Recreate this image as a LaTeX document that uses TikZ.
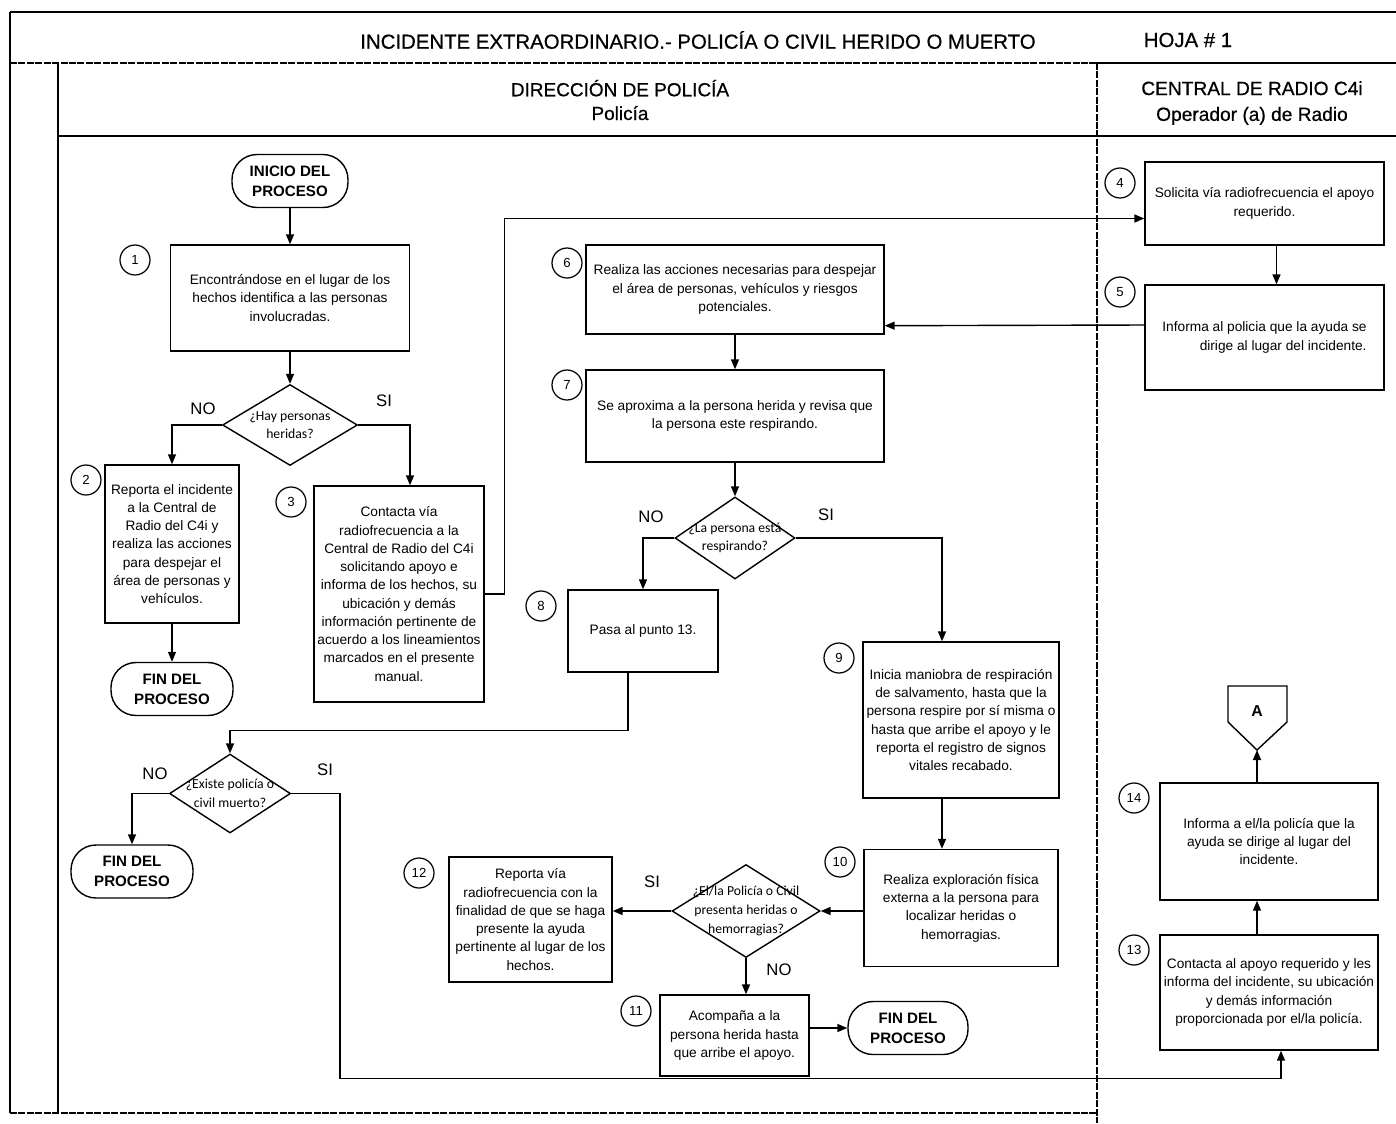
\documentclass[tikz,border=0pt]{standalone}
\usepackage{fontspec}
\setmainfont{Liberation Sans}
\newfontfamily\calibfont{Carlito}
\newfontfamily\headfont{Liberation Sans}[FakeBold=0.6]
\usetikzlibrary{positioning,arrows.meta,shapes.geometric,calc}

\begin{document}
\begin{tikzpicture}[
		x=0.02cm, y=-0.02cm,
		procbox/.style={
			draw,
			line width=0.8pt,
			align=center,
			inner sep=2pt,
			font=\fontsize{7.8}{10.4}\selectfont
		},
		termbox/.style={
			draw,
			line width=0.8pt,
			rounded corners=0.5cm,
			align=center,
			minimum height=1.06cm,
			font=\bfseries\fontsize{8.6}{11.3}\selectfont
		},
		decision/.style={draw, diamond, line width=0.8pt, inner sep=0pt},
		dtext/.style={align=center, font=\calibfont\fontsize{7.8}{10.6}\selectfont},
		numcircle/.style={draw, circle, line width=0.7pt, minimum size=0.6cm, inner sep=0pt, font=\fontsize{7.5}{9}\selectfont},
		answer/.style={font=\fontsize{9.5}{11}\selectfont},
		heading/.style={align=center, font=\headfont\fontsize{10.8}{13.5}\selectfont},
		arrow/.style={-{Triangle[length=2mm,width=1.6mm]}, line width=0.8pt},
		frame/.style={line width=0.9pt},
		lanesplit/.style={line width=0.9pt, dash pattern=on 4pt off 0.8pt}
	]
		\path[fill=white] (0,0) rectangle (1396,1123);
		\useasboundingbox (0,0) rectangle (1396,1123);

		% frame and lanes
		\draw[frame] (10,12) -- (1396,12);
		\draw[frame] (10,12) -- (10,1113);
		\draw[lanesplit] (10,63) -- (1097,63);
		\draw[frame] (1097,63) -- (1396,63);
		\draw[frame] (58,63) -- (58,1113);
		\draw[frame] (58,136) -- (1396,136);
		\draw[lanesplit] (1097,63) -- (1097,1123);
		\draw[lanesplit] (10,1113) -- (1097,1113);

		\node[heading, font=\headfont\fontsize{11.6}{14}\selectfont] (title) at (698,40) {INCIDENTE EXTRAORDINARIO.- POLICÍA O CIVIL HERIDO O MUERTO};
		\node[heading, font=\headfont\fontsize{11.6}{14}\selectfont] (sheet) at (1188,40) {HOJA \# 1};
		\node[heading] (policelane) at (620,100) {DIRECCIÓN DE POLICÍA\\Policía};
		\node[heading, font=\headfont\fontsize{10.9}{14.7}\selectfont] (radiolane) at (1252,103) {CENTRAL DE RADIO C4i\\Operador (a) de Radio};

		% police lane
		\node[termbox, minimum width=2.32cm] (inicio) at (290,181) {INICIO DEL\\PROCESO};
		\node[procbox, minimum width=4.78cm, minimum height=2.12cm] (n1) at (290,298) {
			Encontrándose en el lugar de los\\
			hechos identifica a las personas\\involucradas.
		};
		\node[decision, minimum width=2.7cm, minimum height=1.62cm,
			label={[dtext]center:{¿Hay personas\\heridas?}}] (d1) at (290,425) {};
		\node[procbox, minimum width=2.68cm, minimum height=3.16cm] (n2) at (172,544) {
			Reporta el incidente\\a la Central de\\Radio del C4i y\\
			realiza las acciones\\para despejar el\\área de personas y\\vehículos.
		};
		\node[termbox, minimum width=2.44cm] (fin1) at (172,689) {FIN DEL\\PROCESO};
		\node[procbox, minimum width=3.36cm, minimum height=4.32cm] (n3) at (399,594) {
			Contacta vía\\radiofrecuencia a la\\Central de Radio del C4i\\
			solicitando apoyo e\\informa de los hechos, su\\ubicación y demás\\
			información pertinente de\\acuerdo a los lineamientos\\
			marcados en el presente\\manual.
		};
		\node[procbox, minimum width=5.96cm, minimum height=1.78cm] (n6) at (735,289.5) {
			Realiza las acciones necesarias para despejar\\
			el área de personas, vehículos y riesgos\\potenciales.
		};
		\node[procbox, minimum width=5.96cm, minimum height=1.84cm] (n7) at (735,416) {
			Se aproxima a la persona herida y revisa que\\
			la persona este respirando.
		};
		\node[decision, minimum width=2.4cm, minimum height=1.64cm,
			label={[dtext]center:{¿La persona está\\respirando?}}] (d2) at (735,538) {};
		\node[procbox, minimum width=3.0cm, minimum height=1.64cm] (n8) at (643,631) {Pasa al punto 13.};
		\node[procbox, minimum width=3.88cm, minimum height=3.12cm] (n9) at (961,720) {
			Inicia maniobra de respiración\\de salvamento, hasta que la\\
			persona respire por sí misma o\\hasta que arribe el apoyo y le\\
			reporta el registro de signos\\vitales recabado.
		};
		\node[decision, minimum width=2.42cm, minimum height=1.58cm,
			label={[dtext]center:{¿Existe policía o\\civil muerto?}}] (d3) at (230,793.5) {};
		\node[termbox, minimum width=2.44cm] (fin2) at (132,871.5) {FIN DEL\\PROCESO};
		\node[procbox, minimum width=3.88cm, minimum height=2.34cm] (n10) at (961,908) {
			Realiza exploración física\\externa a la persona para\\
			localizar heridas o\\hemorragias.
		};
		\node[decision, minimum width=2.96cm, minimum height=1.86cm,
			label={[dtext]center:{¿El/la Policía o Civil\\presenta heridas o\\hemorragias?}}] (d4) at (746,911) {};
		\node[procbox, minimum width=3.26cm, minimum height=2.5cm] (n12) at (530.5,919.5) {
			Reporta vía\\radiofrecuencia con la\\finalidad de que se haga\\
			presente la ayuda\\pertinente al lugar de los\\hechos.
		};
		\node[procbox, minimum width=2.98cm, minimum height=1.62cm] (n11) at (734.5,1035.5) {
			Acompaña a la\\persona herida hasta\\que arribe el apoyo.
		};
		\node[termbox, minimum width=2.4cm] (fin3) at (908,1028) {FIN DEL\\PROCESO};

		% radio lane
		\node[procbox, minimum width=4.78cm, minimum height=1.66cm] (n4) at (1264.5,203.5) {
			Solicita vía radiofrecuencia el apoyo\\requerido.
		};
		\node[procbox, align=right, minimum width=4.78cm, minimum height=2.1cm] (n5) at (1264.5,337.5) {
			Informa al policia que la ayuda se\\dirige al lugar del incidente.
		};
		\node[procbox, minimum width=4.36cm, minimum height=2.34cm] (n14) at (1269,841.5) {
			Informa a el/la policía que la\\ayuda se dirige al lugar del\\incidente.
		};
		\node[procbox, minimum width=4.36cm, minimum height=2.3cm] (n13) at (1269,992.5) {
			Contacta al apoyo requerido y les\\informa del incidente, su ubicación\\
			y demás información\\proporcionada por el/la policía.
		};
		\coordinate (Atip) at (1257,750);
		\draw[line width=0.8pt] (1228,686) -- (1287,686) -- (1287,722) -- (Atip) -- (1228,722) -- cycle;
		\node[font=\bfseries\fontsize{9}{10}\selectfont] (offA) at (1257,711) {A};

		% step numbers
		\node[numcircle] (c1) at (135,260) {1};
		\node[numcircle] (c2) at (86,480) {2};
		\node[numcircle] (c3) at (291,502) {3};
		\node[numcircle] (c4) at (1120,183) {4};
		\node[numcircle] (c5) at (1120,292) {5};
		\node[numcircle] (c6) at (567,263) {6};
		\node[numcircle] (c7) at (567,385) {7};
		\node[numcircle] (c8) at (541,606) {8};
		\node[numcircle] (c9) at (839,658) {9};
		\node[numcircle] (c10) at (840,862) {10};
		\node[numcircle] (c11) at (636,1011) {11};
		\node[numcircle] (c12) at (419,873) {12};
		\node[numcircle] (c13) at (1134,950) {13};
		\node[numcircle] (c14) at (1134,798) {14};

		% answers
		\node[answer] (d1no) at (203,409) {NO};
		\node[answer] (d1si) at (384,401) {SI};
		\node[answer] (d2no) at (651,517) {NO};
		\node[answer] (d2si) at (826,515) {SI};
		\node[answer] (d3no) at (155,774) {NO};
		\node[answer] (d3si) at (325,770) {SI};
		\node[answer] (d4si) at (652,882) {SI};
		\node[answer] (d4no) at (779,970) {NO};

		\draw[arrow] (inicio) -- (n1);
		\draw[arrow] (n1) -- (d1);
		\draw[arrow] (d1.west) -| (n2.north);
		\draw[arrow] (d1.east) -| ($(n3.north)+(11,0)$);
		\draw[arrow] (n2) -- (fin1);
		\draw[arrow] (n3.east) -- ++(20,0) |- ($(n4.west)+(0,15)$);
		\draw[arrow] ($(n4.south)+(12,0)$) -- ($(n5.north)+(12,0)$);
		\draw[arrow] ($(n5.west)+(0,-12.5)$) -- ($(n6.south east)+(0,-9)$);
		\draw[arrow] (n6) -- (n7);
		\draw[arrow] (n7) -- (d2);
		\draw[arrow] (d2.west) -| (n8.north);
		\draw[arrow] (d2.east) -| ($(n9.north)+(-19,0)$);
		\draw[arrow] ($(n8.south)+(-15,0)$) -- ++(0,58) -| (d3.north);
		\draw[arrow] (d3.west) -| (fin2.north);
		\draw[arrow] (d3.east) -- ++(49,0) -- ++(0,285) -| ($(n13.south)+(12,0)$);
		\draw[arrow] ($(n9.south)+(-19,0)$) -- ($(n10.north)+(-19,0)$);
		\draw[arrow] (n10.west |- d4.east) -- (d4.east);
		\draw[arrow] (d4.west) -- (d4.west -| n12.east);
		\draw[arrow] (d4.south) -- (d4.south |- n11.north);
		\draw[arrow] (n11.east |- fin3.west) -- (fin3.west);
		\draw[arrow] ($(n13.north)+(-12,0)$) -- ($(n14.south)+(-12,0)$);
		\draw[arrow] ($(n14.north)+(-12,0)$) -- (Atip);
	\end{tikzpicture}
\end{document}
